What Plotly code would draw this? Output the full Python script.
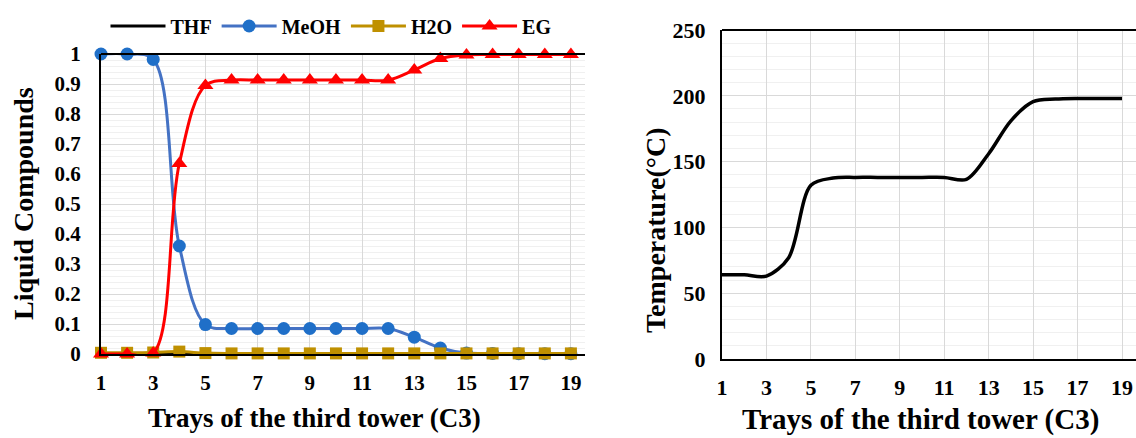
import plotly.graph_objects as go

trays = list(range(1, 20))
thf = [0] * 19
meoh = [1.0, 1.0, 0.982, 0.36, 0.098, 0.085, 0.085, 0.085, 0.085, 0.085, 0.085, 0.085, 0.056, 0.02, 0.003, 0.002, 0.001, 0.001, 0.001]
h2o = [0.004, 0.004, 0.005, 0.008, 0.003, 0.002, 0.002, 0.002, 0.002, 0.002, 0.002, 0.002, 0.002, 0.002, 0.002, 0.002, 0.002, 0.002, 0.002]
eg = [0.0, 0.0, 0.003, 0.635, 0.895, 0.913, 0.913, 0.913, 0.913, 0.913, 0.913, 0.913, 0.947, 0.985, 0.997, 0.998, 0.998, 0.998, 0.998]
temp = [64, 64, 63, 77, 132, 137.5, 138, 138, 138, 138, 138, 136.5, 156, 181, 195.5, 197.5, 198, 198, 198]

x_title = "Trays of the third tower (C3)"
left_y_title = "Liquid Compounds"
right_y_title = "Temperature(°C)"

FONT = "Liberation Serif"
W, H = 1136, 438


def px(x):
    return x / W


def py(y):
    return 1 - y / H


fig = go.Figure()

fig.add_trace(go.Scatter(x=trays, y=thf, name="THF", mode="lines", line=dict(color="black", width=3),
                         xaxis="x", yaxis="y", cliponaxis=False))
fig.add_trace(go.Scatter(x=trays, y=meoh, name="MeOH", mode="lines+markers", line=dict(color="#4472c4", width=3, shape="spline"),
                         marker=dict(symbol="circle", size=13, color="#1f6fc8"), xaxis="x", yaxis="y", cliponaxis=False))
fig.add_trace(go.Scatter(x=trays, y=h2o, name="H2O", mode="lines+markers", line=dict(color="#bf9000", width=3, shape="spline"),
                         marker=dict(symbol="square", size=12, color="#bf9000"), xaxis="x", yaxis="y", cliponaxis=False))
fig.add_trace(go.Scatter(x=trays, y=eg, name="EG", mode="lines+markers", line=dict(color="#ff0000", width=3, shape="spline"),
                         marker=dict(symbol="triangle-up", size=14, color="#ff0000"), xaxis="x", yaxis="y", cliponaxis=False))
fig.add_trace(go.Scatter(x=trays, y=temp, name="Temperature", mode="lines", showlegend=False,
                         line=dict(color="black", width=3.5, shape="spline", smoothing=0.9), xaxis="x2", yaxis="y2"))

tick_left = dict(family=FONT, size=21, color="black", weight="bold")
tick_right = dict(family=FONT, size=22, color="black", weight="bold")

grid = dict(showgrid=True, gridcolor="#d9d9d9", gridwidth=1, zeroline=False,
            showline=True, linecolor="black", linewidth=2, ticks="", automargin=False)

fig.update_layout(
    width=W, height=H,
    margin=dict(l=0, r=0, t=0, b=0),
    paper_bgcolor="white", plot_bgcolor="white",
    font=dict(family=FONT, color="black"),
    legend=dict(orientation="h", x=px(331), xanchor="center", y=py(26), yanchor="middle",
                font=dict(family=FONT, size=20, color="black", weight="bold"),
                itemwidth=55, tracegroupgap=0, bgcolor="rgba(0,0,0,0)"),
    xaxis=dict(domain=[px(101), px(585)], range=[1, 19.54], tick0=1, dtick=2,
               tickfont=tick_left, ticklabelstandoff=9, **grid),
    yaxis=dict(domain=[py(354), py(54)], range=[0, 1], dtick=0.1,
               minor=dict(dtick=0.02, showgrid=True, gridcolor="#f0f0f0", gridwidth=1),
               tickfont=tick_left, ticklabelstandoff=14, **grid),
    xaxis2=dict(domain=[px(722), 1.0], range=[1, 19.63], tick0=1, dtick=2, anchor="y2",
                tickfont=tick_right, ticklabelstandoff=8, **grid),
    yaxis2=dict(domain=[py(359), py(30)], range=[0, 250], dtick=50, anchor="x2",
                minor=dict(dtick=10, showgrid=True, gridcolor="#f0f0f0", gridwidth=1),
                tickfont=tick_right, ticklabelstandoff=10, **grid),
    shapes=[
        dict(type="line", xref="x domain", yref="y domain", x0=0, x1=1, y0=1, y1=1,
             line=dict(color="black", width=2)),
        dict(type="line", xref="x2 domain", yref="y2 domain", x0=0, x1=1, y0=1, y1=1,
             line=dict(color="black", width=2)),
    ],
    annotations=[
        dict(text=x_title, xref="paper", yref="paper", x=px(314), y=py(418), xanchor="center", yanchor="middle",
             showarrow=False, font=dict(family=FONT, size=27, color="black", weight="bold")),
        dict(text=x_title, xref="paper", yref="paper", x=px(920), y=py(419), xanchor="center", yanchor="middle",
             showarrow=False, font=dict(family=FONT, size=29, color="black", weight="bold")),
        dict(text=left_y_title, xref="paper", yref="paper", x=px(23), y=py(204), xanchor="center", yanchor="middle",
             textangle=-90, showarrow=False, font=dict(family=FONT, size=28, color="black", weight="bold")),
        dict(text=right_y_title, xref="paper", yref="paper", x=px(655), y=py(230), xanchor="center", yanchor="middle",
             textangle=-90, showarrow=False, font=dict(family=FONT, size=28, color="black", weight="bold")),
    ],
)

fig.write_html("out.html")
